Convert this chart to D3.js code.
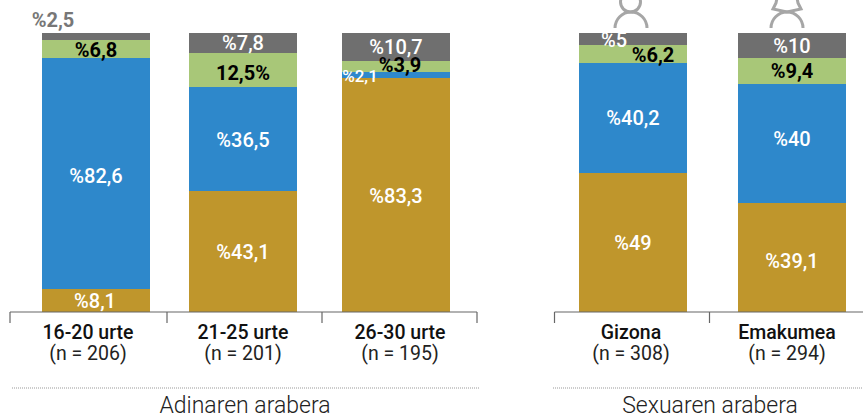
<!DOCTYPE html>
<html><head><meta charset="utf-8">
<script src="https://cdn.jsdelivr.net/npm/d3@7/dist/d3.min.js"></script>
<style>html,body{margin:0;padding:0;background:#fff;overflow:hidden}svg{display:block}text{font-family:Roboto,sans-serif}</style>
</head><body><svg id="c" width="863" height="419"></svg>
<script>
const categories=["16-20 urte","21-25 urte","26-30 urte","Gizona","Emakumea"];
const sampleSizes=["(n = 206)","(n = 201)","(n = 195)","(n = 308)","(n = 294)"];
const groupTitles=["Adinaren arabera","Sexuaren arabera"];
const goldValues=[8.1,43.1,84,49.7,39];
const blueValues=[82.9,37.4,2,39.5,42.7];
const greenValues=[6.5,12.2,3.9,6.5,9.2];
const greyValues=[2.5,7.3,10.1,4.3,9.1];
const goldLabels=["%8,1","%43,1","%83,3","%49","%39,1"];
const blueLabels=["%82,6","%36,5","%2,1","%40,2","%40"];
const greenLabels=["%6,8","12,5%","%3,9","%6,2","%9,4"];
const greyLabels=["%2,5","%7,8","%10,7","%5","%10"];

const svg=d3.select("#c");
const x=d3.scaleOrdinal().domain(categories).range([42,189,342,579,738]);
const barW=108;
const y=d3.scaleLinear().domain([0,100]).range([311.5,33]);
const series=[
 {key:"gold",vals:goldValues,labs:goldLabels,fill:"#bf962c",text:"#fff",weight:500},
 {key:"blue",vals:blueValues,labs:blueLabels,fill:"#2e88cb",text:"#fff",weight:500},
 {key:"green",vals:greenValues,labs:greenLabels,fill:"#a8c778",text:"#000",weight:700},
 {key:"grey",vals:greyValues,labs:greyLabels,fill:"#6f6f6f",text:"#fff",weight:500}
];
const rows=categories.map((c,i)=>{const r={cat:c};series.forEach(s=>r[s.key]=s.vals[i]);return r;});
const stack=d3.stack().keys(series.map(s=>s.key))(rows);
stack.forEach((layer,si)=>{
 svg.append("g").attr("shape-rendering","crispEdges").selectAll("rect").data(layer).join("rect")
  .attr("x",d=>x(d.data.cat)).attr("width",barW)
  .attr("y",d=>y(d[1])).attr("height",d=>y(d[0])-y(d[1]))
  .attr("fill",series[si].fill);
});
// manual label nudges (series, category index) -> [dx, dy, optional colour, optional size]
const nudges={
 "grey0":[-43,-17,"#777"],"green0":[0,1],"blue0":[0,2.5],"gold0":[-1,1],
 "green1":[0,2],
 "green2":[4,-1.5],"blue2":[-36,1,null,17],"gold2":[0,1.5],
 "grey3":[-19,1],"green3":[20,1],"gold3":[0,1],
 "blue4":[0,-5],"gold4":[0,4]
};
const labelG=svg.append("g").attr("font-size",20).attr("text-anchor","middle");
stack.forEach((layer,si)=>{
 layer.forEach((d,i)=>{
  const n=nudges[series[si].key+i]||[0,0];
  labelG.append("text")
   .attr("x",x(d.data.cat)+barW/2+n[0])
   .attr("y",(y(d[0])+y(d[1]))/2+n[1])
   .attr("dy","0.36em")
   .attr("font-size",n[3]||20)
   .attr("font-weight",n[2]?700:series[si].weight)
   .attr("fill",n[2]||series[si].text)
   .text(series[si].labs[i]);
 });
});
// brackets
const br=[[10,167,322,477],[554.5,709.5,863+5]];
br.forEach(t=>{
 const g=svg.append("g").attr("stroke","#666").attr("stroke-width",1.2).attr("fill","none");
 g.append("line").attr("x1",t[0]).attr("x2",t[t.length-1]).attr("y1",312).attr("y2",312);
 t.forEach(v=>g.append("line").attr("x1",v).attr("x2",v).attr("y1",312).attr("y2",323));
});
// axis labels
const labelX=[88,243,400,631,787];
categories.forEach((c,i)=>{
 svg.append("text").attr("x",labelX[i]).attr("y",339).attr("text-anchor","middle")
  .attr("font-size",19.5).attr("font-weight",500).attr("fill","#111").text(c);
 svg.append("text").attr("x",labelX[i]).attr("y",360).attr("text-anchor","middle")
  .attr("font-size",19.5).attr("font-weight",400).attr("fill","#222").text(sampleSizes[i]);
});
// dotted dividers and group titles
[[12,479,245],[553,863,710]].forEach((d,i)=>{
 svg.append("line").attr("x1",d[0]).attr("x2",d[1]).attr("y1",388).attr("y2",388)
  .attr("stroke","#999").attr("stroke-width",1).attr("stroke-dasharray","1 1");
 svg.append("text").attr("x",d[2]).attr("y",413).attr("text-anchor","middle")
  .attr("font-size",23).attr("font-weight",300).attr("fill","#222").text(groupTitles[i]);
});
// icons
const ic=svg.append("g").attr("fill","none").attr("stroke","#a6a6a6").attr("stroke-width",3);
ic.append("circle").attr("cx",630.5).attr("cy",2).attr("r",10);
ic.append("path").attr("d","M615,28 A16,16 0 0 1 647,28");
ic.append("path").attr("d","M777,-2 L776,3 L773,9 L787,12 L801,9 L798,3 L797,-2");
ic.append("path").attr("d","M771,28 A16,16 0 0 1 803,28");
</script></body></html>
